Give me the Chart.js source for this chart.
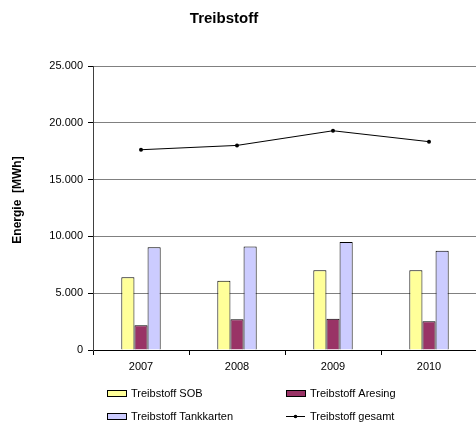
<!DOCTYPE html>
<html>
<head>
<meta charset="utf-8">
<title>Treibstoff</title>
<script src="https://cdn.jsdelivr.net/npm/chart.js@4/dist/chart.umd.min.js"></script>
<style>
  html, body { margin: 0; padding: 0; background: #fff; overflow: hidden; }
  #wrap { width: 476px; height: 425px; overflow: hidden; }
</style>
</head>
<body>
<div id="wrap"><canvas id="fuelChart" width="481" height="425"></canvas></div>
<script>
// Energieverbrauch Treibstoff in MWh
const years = ['2007', '2008', '2009', '2010'];
const sobValues = [6400, 6100, 7010, 7010];
const aresingValues = [2170, 2700, 2760, 2520];
const tankkartenValues = [9040, 9100, 9510, 8740];
const gesamtValues = [17630, 18010, 19300, 18340];
const yTicks = [0, 5000, 10000, 15000, 20000, 25000];

function formatDe(v) {
    return String(v).replace(/\B(?=(\d{3})+(?!\d))/g, '.');
}

const FONT = "'Liberation Sans', Arial, sans-serif";

// Title, axis title and two-column legend drawn by hand
const decorations = {
    id: 'decorations',
    afterDraw(chart) {
        const ctx = chart.ctx;
        ctx.save();
        ctx.fillStyle = '#000';
        ctx.font = 'bold 15px ' + FONT;
        ctx.textAlign = 'center';
        ctx.textBaseline = 'middle';
        ctx.fillText('Treibstoff', 224, 19);

        ctx.save();
        ctx.translate(18, 200);
        ctx.rotate(-Math.PI / 2);
        ctx.font = 'bold 12px ' + FONT;
        ctx.fillText('Energie  [MWh]', 0, 0);
        ctx.restore();

        const items = [
            { ds: 0, x: 107, y: 393 },
            { ds: 1, x: 286, y: 393 },
            { ds: 2, x: 107, y: 416 },
            { ds: 3, x: 286, y: 416 }
        ];
        ctx.font = '11px ' + FONT;
        ctx.textAlign = 'left';
        items.forEach(it => {
            const ds = chart.data.datasets[it.ds];
            if (ds.type === 'line') {
                ctx.strokeStyle = '#000';
                ctx.lineWidth = 1;
                ctx.beginPath();
                ctx.moveTo(it.x, it.y + 0.5);
                ctx.lineTo(it.x + 19, it.y + 0.5);
                ctx.stroke();
                ctx.fillStyle = '#000';
                ctx.beginPath();
                ctx.arc(it.x + 9.5, it.y + 0.5, 1.8, 0, Math.PI * 2);
                ctx.fill();
            } else {
                ctx.fillStyle = ds.backgroundColor;
                ctx.fillRect(it.x, it.y - 3, 20, 7);
                ctx.strokeStyle = '#000';
                ctx.lineWidth = 1;
                ctx.strokeRect(it.x + 0.5, it.y - 2.5, 19, 6);
            }
            ctx.fillStyle = '#000';
            ctx.fillText(ds.label, it.x + 24, it.y + 1);
        });
        ctx.restore();
    }
};

const ctx = document.getElementById('fuelChart').getContext('2d');
const fuelChart = new Chart(ctx, {
    data: {
        labels: years,
        datasets: [
            {
                type: 'bar',
                label: 'Treibstoff SOB',
                data: sobValues,
                backgroundColor: '#FFFF99',
                borderColor: '#000',
                borderWidth: 1,
                order: 1
            },
            {
                type: 'bar',
                label: 'Treibstoff Aresing',
                data: aresingValues,
                backgroundColor: '#993366',
                borderColor: '#000',
                borderWidth: 1,
                order: 1
            },
            {
                type: 'bar',
                label: 'Treibstoff Tankkarten',
                data: tankkartenValues,
                backgroundColor: '#CCCCFF',
                borderColor: '#000',
                borderWidth: 1,
                order: 1
            },
            {
                type: 'line',
                label: 'Treibstoff gesamt',
                data: gesamtValues,
                borderColor: '#000',
                backgroundColor: '#000',
                borderWidth: 1,
                pointRadius: 2,
                pointBorderWidth: 0,
                tension: 0,
                order: 0
            }
        ]
    },
    options: {
        responsive: false,
        animation: false,
        layout: { padding: { top: 66, right: 0, bottom: 0, left: 0 } },
        datasets: {
            bar: { barPercentage: 1, categoryPercentage: 0.41 }
        },
        scales: {
            x: {
                grid: {
                    offset: true,
                    drawOnChartArea: false,
                    tickLength: 5,
                    color: '#000'
                },
                border: { color: '#000', width: 1 },
                ticks: {
                    color: '#000',
                    font: { family: FONT, size: 11 },
                    padding: 5,
                    maxRotation: 0
                },
                afterFit(scale) { scale.height = 75; }
            },
            y: {
                min: 0,
                max: 25000,
                afterBuildTicks(scale) {
                    scale.ticks = yTicks.map(v => ({ value: v }));
                },
                grid: {
                    color: '#808080',
                    tickLength: 5,
                    tickColor: '#000'
                },
                border: { color: '#404040', width: 1 },
                ticks: {
                    color: '#000',
                    font: { family: FONT, size: 11 },
                    padding: 5,
                    callback: v => formatDe(v)
                },
                afterFit(scale) { scale.width = 93; }
            }
        },
        plugins: {
            legend: { display: false },
            title: { display: false },
            tooltip: { enabled: false }
        }
    },
    plugins: [decorations]
});
</script>
</body>
</html>
